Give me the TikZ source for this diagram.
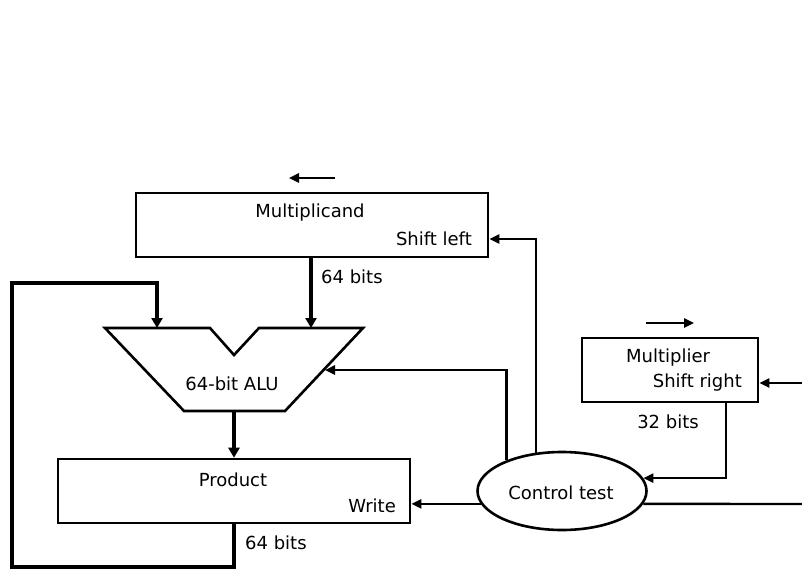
\documentclass[tikz,border=0pt]{standalone}
\usepackage{fontspec}
\setmainfont{DejaVu Sans}
\usetikzlibrary{arrows.meta,shapes.geometric}
\begin{document}
\begin{tikzpicture}[x=1pt,y=-1pt,
  regbox/.style={draw,line width=2.6pt,rectangle,inner sep=0pt},
  ctrlbox/.style={draw,line width=2.6pt,ellipse,minimum width=169pt,minimum height=78pt,inner sep=0pt},
  lbl/.style={font=\fontsize{18pt}{22pt}\selectfont,inner sep=0pt},
  thin/.style={line width=2.4pt},
  thinarrow/.style={thin,-{Triangle[length=10pt,width=9pt]}},
  busarrow/.style={line width=4.8pt,-{Triangle[length=10pt,width=11pt]}},
  bus/.style={line width=4.8pt}]
\useasboundingbox (0,0) rectangle (802,572);

% registers
\node[regbox,minimum width=352pt,minimum height=64pt] (mcand) at (312,225) {};
\node[regbox,minimum width=176pt,minimum height=64pt] (mplier) at (670,370) {};
\node[regbox,minimum width=352pt,minimum height=64pt] (prod) at (234,491) {};
\node[ctrlbox] (ctrl) at (562,491) {};

% register texts
\node[lbl] (mcandT) at (310,213) {Multiplicand};
\node[lbl,anchor=east] (mcandS) at (472,239) {Shift left};
\node[lbl] (mplierT) at (668,358) {Multiplier};
\node[lbl,anchor=east] (mplierS) at (742,383) {Shift right};
\node[lbl] (prodT) at (233,480) {Product};
\node[lbl,anchor=east] (prodW) at (396,506) {Write};
\node[lbl] (ctrlT) at (561,493) {Control test};
\node[lbl] (aluT) at (232,384) {64-bit ALU};

% ALU outline
\draw[line width=2.6pt] (105,328) -- (210,328) -- (234,355) -- (259,328) -- (363,328)
  -- (285,411) -- (184,411) -- cycle;
\coordinate (aluL) at (157,328);
\coordinate (aluR) at (311,328);
\coordinate (aluB) at (234,411);
\coordinate (aluIn) at (325,370);

% bus labels
\node[lbl,anchor=west] (bitsA) at (321,277) {64 bits};
\node[lbl] (bitsB) at (668,422) {32 bits};
\node[lbl,anchor=west] (bitsC) at (245,543) {64 bits};

% shift direction marks
\coordinate (slA) at (335,178);
\coordinate (slB) at (289,178);
\coordinate (srA) at (646,323);
\coordinate (srB) at (694,323);
\draw[thinarrow] (slA) -- (slB);
\draw[thinarrow] (srA) -- (srB);

% data buses
\draw[busarrow] (mcand.south -| aluR) -- (aluR);
\draw[busarrow] (aluB) -- (prod.north);
\coordinate (fbBL) at (12,567);
\coordinate (fbTL) at (12,283);
\draw[busarrow] (prod.south) |- (fbBL) -- (fbTL) -| (aluL);

% control lines
\draw[thinarrow] (ctrl.151) |- (aluIn);
\draw[thinarrow] (ctrl.124) |- ([yshift=-14pt]mcand.east);
\draw[thinarrow] (ctrl.189.3) -- (ctrl.189.3 -| prod.east);
\draw[thinarrow] ([xshift=56pt]mplier.south) |- (ctrl.9.3);
\coordinate (rin) at (802,383);
\draw[thinarrow] (rin) -- (rin -| mplier.east);
\coordinate (rout) at (802,504);
\draw[thin] (ctrl.-9.3) -- (rout);
\end{tikzpicture}
\end{document}
